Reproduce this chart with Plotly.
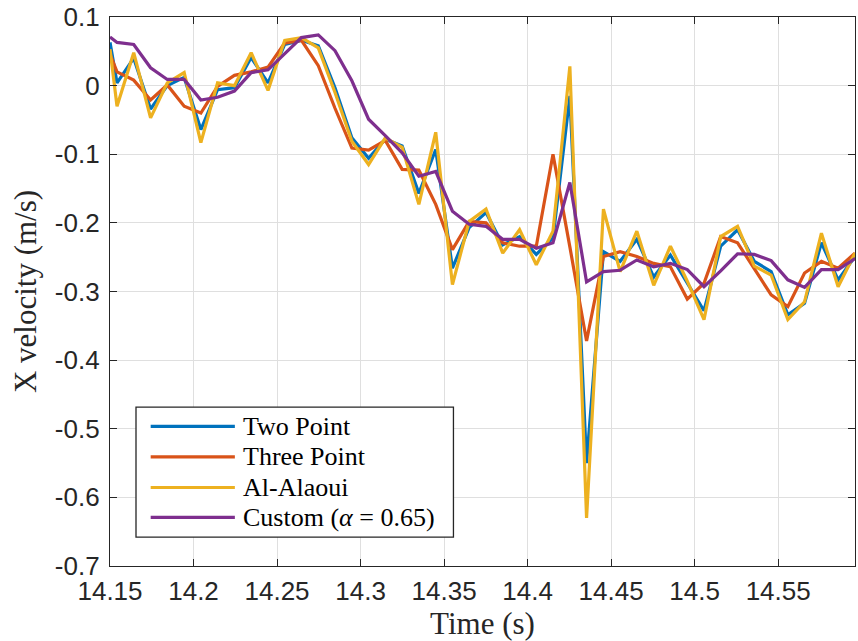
import plotly.graph_objects as go

time_s = [14.1500, 14.1542, 14.1642, 14.1743, 14.1843, 14.1944, 14.2044, 14.2144, 14.2245,
          14.2345, 14.2446, 14.2546, 14.2646, 14.2747, 14.2847, 14.2948, 14.3048, 14.3148,
          14.3249, 14.3349, 14.3450, 14.3550, 14.3650, 14.3751, 14.3851, 14.3952, 14.4052,
          14.4152, 14.4253, 14.4353, 14.4454, 14.4554, 14.4654, 14.4755, 14.4855, 14.4956,
          14.5056, 14.5156, 14.5257, 14.5357, 14.5458, 14.5558, 14.5658, 14.5759, 14.5859,
          14.5960]

two_point = [0.063, 0.004, 0.040, -0.034, 0.000, 0.012, -0.064, -0.006, -0.003, 0.041,
             0.004, 0.060, 0.066, 0.058, -0.003, -0.076, -0.106, -0.078, -0.088, -0.157,
             -0.093, -0.266, -0.207, -0.185, -0.232, -0.220, -0.246, -0.222, -0.015, -0.550,
             -0.242, -0.256, -0.224, -0.279, -0.247, -0.288, -0.328, -0.234, -0.210, -0.256,
             -0.271, -0.334, -0.317, -0.229, -0.283, -0.249]

three_point = [0.046, 0.020, 0.008, -0.021, 0.001, -0.030, -0.040, -0.001, 0.015, 0.020,
               0.027, 0.062, 0.066, 0.029, -0.033, -0.091, -0.094, -0.080, -0.122, -0.123,
               -0.173, -0.239, -0.198, -0.200, -0.229, -0.234, -0.234, -0.100, -0.235, -0.372,
               -0.249, -0.242, -0.249, -0.259, -0.264, -0.311, -0.288, -0.220, -0.229, -0.266,
               -0.305, -0.322, -0.273, -0.256, -0.266, -0.244]

al_alaoui = [0.053, -0.030, 0.048, -0.047, 0.004, 0.019, -0.083, 0.004, 0.000, 0.048,
             -0.007, 0.066, 0.070, 0.055, -0.010, -0.081, -0.115, -0.076, -0.090, -0.173,
             -0.068, -0.290, -0.198, -0.180, -0.244, -0.210, -0.261, -0.212, 0.028, -0.630,
             -0.180, -0.271, -0.212, -0.291, -0.234, -0.285, -0.341, -0.220, -0.205, -0.263,
             -0.276, -0.341, -0.315, -0.215, -0.293, -0.244]

custom = [0.071, 0.063, 0.060, 0.026, 0.009, 0.009, -0.021, -0.017, -0.008, 0.019,
          0.023, 0.046, 0.070, 0.074, 0.051, 0.007, -0.049, -0.073, -0.098, -0.132,
          -0.125, -0.183, -0.202, -0.205, -0.224, -0.224, -0.237, -0.229, -0.141, -0.286,
          -0.271, -0.269, -0.254, -0.264, -0.259, -0.268, -0.293, -0.270, -0.245, -0.246,
          -0.255, -0.283, -0.294, -0.268, -0.268, -0.252]

series_names = ["Two Point", "Three Point", "Al-Alaoui", "Custom (<i>α</i> = 0.65)"]
series_colors = ["#0072BD", "#D95319", "#EDB120", "#7E2F8E"]
series_values = [two_point, three_point, al_alaoui, custom]

x_tick_vals = [14.15, 14.2, 14.25, 14.3, 14.35, 14.4, 14.45, 14.5, 14.55]
x_tick_text = ["14.15", "14.2", "14.25", "14.3", "14.35", "14.4", "14.45", "14.5", "14.55"]
y_tick_vals = [-0.7, -0.6, -0.5, -0.4, -0.3, -0.2, -0.1, 0.0, 0.1]
y_tick_text = ["-0.7", "-0.6", "-0.5", "-0.4", "-0.3", "-0.2", "-0.1", "0", "0.1"]

fig = go.Figure()
for name, color, vals in zip(series_names, series_colors, series_values):
    fig.add_trace(go.Scatter(x=time_s, y=vals, mode="lines", name=name,
                             line=dict(color=color, width=3.2), showlegend=False))

axis_common = dict(
    showgrid=True, gridcolor="#dfdfdf", gridwidth=1,
    showline=True, linecolor="#262626", linewidth=1.3, mirror="ticks",
    ticks="inside", ticklen=7, tickcolor="#262626", tickwidth=1.3,
    zeroline=False,
    tickfont=dict(family="Liberation Sans, Arial, sans-serif", size=26, color="#262626"),
)

fig.update_xaxes(range=[14.15, 14.596], tickvals=x_tick_vals, ticktext=x_tick_text,
                 ticklabelstandoff=2,
                 title=dict(text="Time (s)", font=dict(family="Liberation Serif, serif", size=31, color="#262626"),
                            standoff=8),
                 **axis_common)
fig.update_yaxes(range=[-0.7, 0.1], tickvals=y_tick_vals, ticktext=y_tick_text,
                 ticklabelstandoff=4,
                 title=dict(text="X velocity (m/s)", font=dict(family="Liberation Serif, serif", size=31, color="#262626"),
                            standoff=8),
                 **axis_common)

# custom legend (box, line samples, labels)
leg_x0, leg_x1, leg_y0, leg_y1 = 0.0349, 0.461, 0.0527, 0.2894
line_x0, line_x1, text_x = 0.0546, 0.1676, 0.1765
row_y = [0.2543, 0.1986, 0.1430, 0.0885]
shapes = [dict(type="rect", xref="paper", yref="paper", x0=leg_x0, x1=leg_x1, y0=leg_y0, y1=leg_y1,
               line=dict(color="#262626", width=1.3), fillcolor="white", layer="above")]
annotations = []
for name, color, ry in zip(series_names, series_colors, row_y):
    shapes.append(dict(type="line", xref="paper", yref="paper", x0=line_x0, x1=line_x1, y0=ry, y1=ry,
                       line=dict(color=color, width=3.2), layer="above"))
    annotations.append(dict(xref="paper", yref="paper", x=text_x, y=ry, text=name, showarrow=False,
                            xanchor="left", yanchor="middle",
                            font=dict(family="Liberation Serif, serif", size=26, color="black")))

fig.update_layout(
    width=858, height=641,
    margin=dict(l=110, r=2, t=15, b=75),
    plot_bgcolor="white", paper_bgcolor="white",
    shapes=shapes, annotations=annotations,
    showlegend=False,
)

fig.write_html("out.html")
